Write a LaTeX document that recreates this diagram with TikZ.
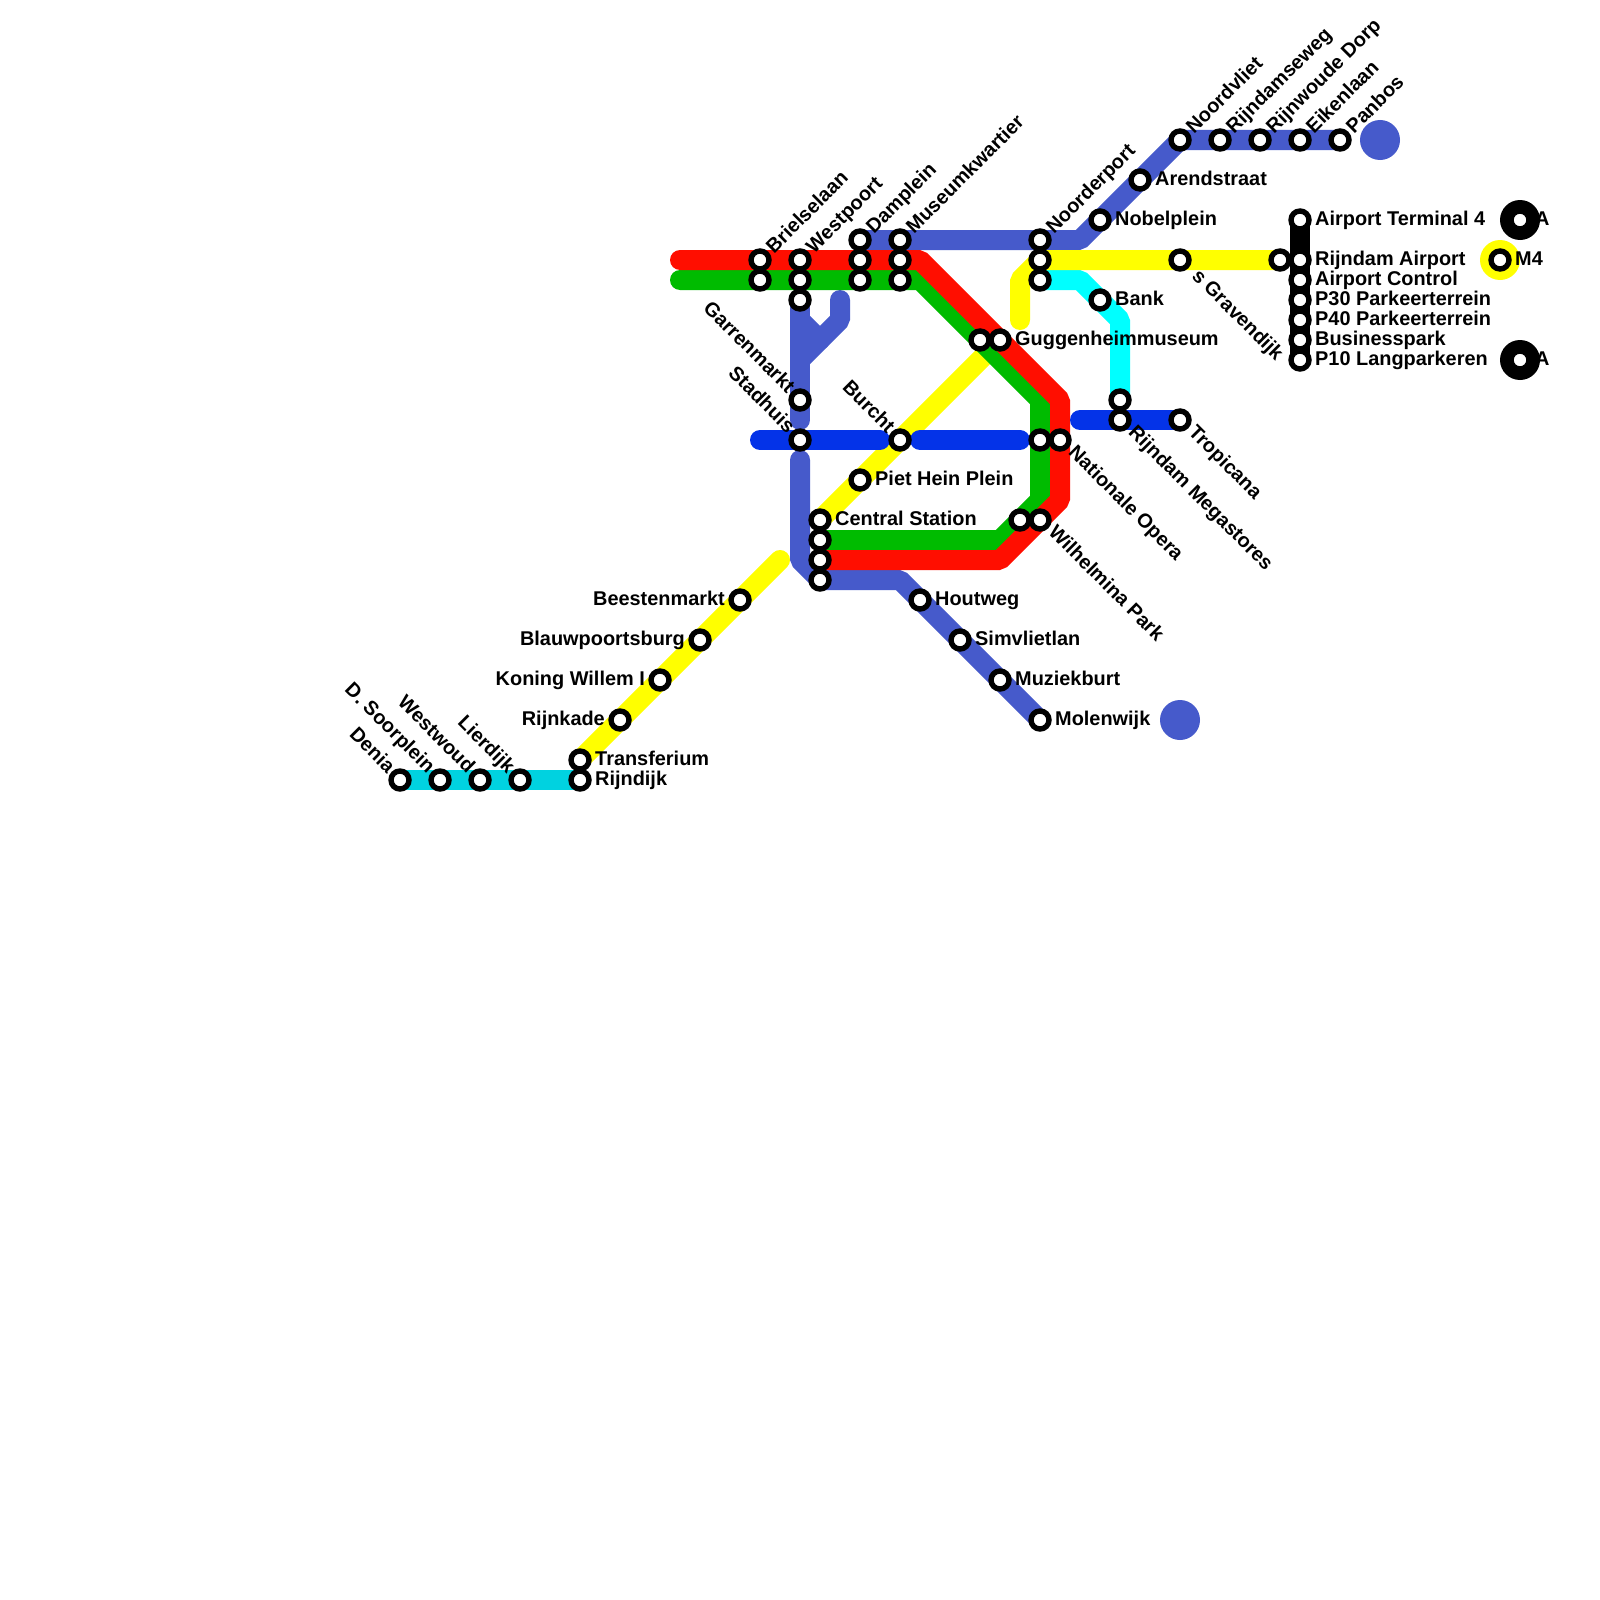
\documentclass[tikz,border=0pt]{standalone}
\usepackage{fontspec}
\setmainfont{Liberation Sans}
\definecolor{lblue}{HTML}{465ACB}
\definecolor{lroyal}{HTML}{0433E8}
\definecolor{lgreen}{HTML}{00BB00}
\definecolor{lred}{HTML}{FF0E00}
\definecolor{lyellow}{HTML}{FFFF00}
\definecolor{lcyan}{HTML}{00FFFF}
\definecolor{lteal}{HTML}{00D2E0}
\tikzset{
  metro/.style={line width=20pt,line join=bevel,line cap=round},
  stn/.style={circle,draw=black,fill=white,line width=5.4pt,minimum size=18pt,inner sep=0pt},
  blob/.style={circle,fill=#1,minimum size=40pt,inner sep=0pt},
  lab/.style={font=\bfseries\fontsize{19.9}{20}\selectfont,inner sep=0pt,text=black},
  lr/.style={lab,anchor=base west,xshift=15pt,yshift=-5pt},
  ll/.style={lab,anchor=base east,xshift=-15pt,yshift=-5pt},
  lur/.style={lab,anchor=base west,xshift=14pt,yshift=5.5pt,rotate=45},
  ldr/.style={lab,anchor=base west,xshift=7.5pt,yshift=-13.5pt,rotate=-45},
  lul/.style={lab,anchor=base east,xshift=-13pt,yshift=6pt,rotate=-45},
}
\begin{document}
\begin{tikzpicture}[x=1pt,y=-1pt]
\useasboundingbox (0,0) rectangle (1600,1600);
\fill[white] (0,0) rectangle (1600,1600);
% station positions
\foreach \n/\p in {
 bri1/{760,260},bri2/{760,280},wes1/{800,260},wes2/{800,280},wes3/{800,300},
 dam1/{860,240},dam2/{860,260},dam3/{860,280},mus1/{900,240},mus2/{900,260},mus3/{900,280},
 noo1/{1040,240},noo2/{1040,260},noo3/{1040,280},gug1/{980,340},gug2/{1000,340},
 gar/{800,400},sta/{800,440},bur/{900,440},nat1/{1040,440},nat2/{1060,440},
 pie/{860,480},cen1/{820,520},cen2/{820,540},cen3/{820,560},cen4/{820,580},
 wil1/{1020,520},wil2/{1040,520},hou/{920,600},sim/{960,640},muz/{1000,680},mol/{1040,720},
 bee/{740,600},bla/{700,640},kon/{660,680},rka/{620,720},tra/{580,760},rdk/{580,780},
 lie/{520,780},wwd/{480,780},soo/{440,780},den/{400,780},
 nob/{1100,220},are/{1140,180},nvl/{1180,140},rse/{1220,140},rwd/{1260,140},eik/{1300,140},pan/{1340,140},
 ban/{1100,300},meg1/{1120,400},meg2/{1120,420},tro/{1180,420},gra/{1180,260},gra2/{1280,260},
 air/{1300,260},ter/{1300,220},con/{1300,280},ptt/{1300,300},ptf/{1300,320},bus/{1300,340},pte/{1300,360},
 lega/{1520,220},legm/{1500,260},legb/{1520,360}%
}{\coordinate (c\n) at (\p);}
% bends and free ends
\coordinate (b1) at (1080,240);
\coordinate (b2) at (800,460);
\coordinate (b3) at (800,560);
\coordinate (b4) at (900,580);
\coordinate (b5) at (800,420);
\coordinate (b6) at (840,300);
\coordinate (b7) at (840,320);
\coordinate (b8) at (800,360);
\coordinate (b9) at (800,320);
\coordinate (b10) at (820,340);
\coordinate (r0) at (680,260);
\coordinate (r1) at (920,260);
\coordinate (r2) at (1060,400);
\coordinate (r3) at (1060,500);
\coordinate (r4) at (1000,560);
\coordinate (g0) at (680,280);
\coordinate (g1) at (920,280);
\coordinate (g2) at (1040,400);
\coordinate (g3) at (1040,500);
\coordinate (g4) at (1000,540);
\coordinate (y1) at (780,560);
\coordinate (y2) at (1020,320);
\coordinate (y3) at (1020,280);
\coordinate (k1) at (1080,280);
\coordinate (k2) at (1120,320);
\coordinate (t0) at (760,440);
\coordinate (t1) at (880,440);
\coordinate (t2) at (920,440);
\coordinate (t3) at (1020,440);
\coordinate (t4) at (1080,420);
% this label lies partly under the yellow line
\node[ldr] (t37a) at (cgra) {'s Gravendijk};
% lines
\draw[metro,lblue] (cdam1) -- (b1) -- (cnvl) -- (cpan);
\draw[metro,lblue] (cwes3) -- (b5);
\draw[metro,lblue] (b6) -- (b7) -- (b8);
\draw[metro,lblue] (b9) -- (b10);
\draw[metro,lblue] (b2) -- (b3) -- (ccen4) -- (b4) -- (cmol);
\draw[metro,lcyan] (cnoo3) -- (k1) -- (k2) -- (cmeg1);
\draw[metro,lyellow] (ctra) -- (y1);
\draw[metro,lyellow] (ccen1) -- (cgug2);
\draw[metro,lyellow] (y2) -- (y3) -- (cnoo2) -- (cgra2);
\draw[metro,lgreen] (g0) -- (g1) -- (g2) -- (g3) -- (g4) -- (ccen2);
\draw[metro,lred] (r0) -- (r1) -- (r2) -- (r3) -- (r4) -- (ccen3);
\draw[metro,lroyal] (t0) -- (t1);
\draw[metro,lroyal] (t2) -- (t3);
\draw[metro,lroyal] (t4) -- (ctro);
\draw[metro,lteal] (cden) -- (crdk);
\draw[metro,black] (cter) -- (cpte);
% terminal discs
\node[blob=lblue] (blobn) at (1380,140) {};
\node[blob=lblue] (blobs) at (1180,720) {};
\node[blob=black] (dla) at (clega) {};
\node[blob=lyellow] (dlm) at (clegm) {};
\node[blob=black] (dlb) at (clegb) {};
% stations
\foreach \n in {bri1,bri2,wes1,wes2,wes3,dam1,dam2,dam3,mus1,mus2,mus3,noo1,noo2,noo3,gug1,gug2,
 gar,sta,bur,nat1,nat2,pie,cen1,cen2,cen3,cen4,wil1,wil2,hou,sim,muz,mol,bee,bla,kon,rka,tra,rdk,
 lie,wwd,soo,den,nob,are,nvl,rse,rwd,eik,pan,ban,meg1,meg2,tro,gra,gra2,air,ter,con,ptt,ptf,bus,pte,lega,legm,legb}
 {\node[stn] (s\n) at (c\n) {};}
% labels
\node[lur] (t1a) at (cbri1) {Brielselaan};
\node[lur] (t2a) at (cwes1) {Westpoort};
\node[lur] (t3a) at (cdam1) {Damplein};
\node[lur] (t4a) at (cmus1) {Museumkwartier};
\node[lur] (t5a) at (cnoo1) {Noorderport};
\node[lur] (t6a) at (cnvl) {Noordvliet};
\node[lur] (t7a) at (crse) {Rijndamseweg};
\node[lur] (t8a) at (crwd) {Rijnwoude Dorp};
\node[lur] (t9a) at (ceik) {Eikenlaan};
\node[lur] (t10a) at (cpan) {Panbos};
\node[lr] (t11a) at (cgug2) {Guggenheimmuseum};
\node[lr] (t12a) at (cnob) {Nobelplein};
\node[lr] (t13a) at (care) {Arendstraat};
\node[lr] (t14a) at (cban) {Bank};
\node[lr] (t15a) at (cter) {Airport Terminal 4};
\node[lr] (t16a) at (cair) {Rijndam Airport};
\node[lr] (t17a) at (ccon) {Airport Control};
\node[lr] (t18a) at (cptt) {P30 Parkeerterrein};
\node[lr] (t19a) at (cptf) {P40 Parkeerterrein};
\node[lr] (t20a) at (cbus) {Businesspark};
\node[lr] (t21a) at (cpte) {P10 Langparkeren};
\node[lr] (t22a) at (clega) {A};
\node[lr] (t23a) at (clegm) {M4};
\node[lr] (t24a) at (clegb) {A};
\node[lr] (t25a) at (cpie) {Piet Hein Plein};
\node[lr] (t26a) at (ccen1) {Central Station};
\node[lr] (t27a) at (chou) {Houtweg};
\node[lr] (t28a) at (csim) {Simvlietlan};
\node[lr] (t29a) at (cmuz) {Muziekburt};
\node[lr] (t30a) at (cmol) {Molenwijk};
\node[lr] (t31a) at (ctra) {Transferium};
\node[lr] (t32a) at (crdk) {Rijndijk};
\node[ll] (t33a) at (cbee) {Beestenmarkt};
\node[ll] (t34a) at (cbla) {Blauwpoortsburg};
\node[ll] (t35a) at (ckon) {Koning Willem I};
\node[ll] (t36a) at (crka) {Rijnkade};
\node[ldr] (t38a) at (cnat2) {Nationale Opera};
\node[ldr] (t39a) at (cwil2) {Wilhelmina Park};
\node[ldr] (t40a) at (cmeg2) {Rijndam Megastores};
\node[ldr] (t41a) at (ctro) {Tropicana};
\node[lul] (t42a) at (cgar) {Garrenmarkt};
\node[lul] (t43a) at (csta) {Stadhuis};
\node[lul] (t44a) at (cbur) {Burcht};
\node[lul] (t45a) at (clie) {Lierdijk};
\node[lul] (t46a) at (cwwd) {Westwoud};
\node[lul] (t47a) at (csoo) {D. Soorplein};
\node[lul] (t48a) at (cden) {Denia};
\end{tikzpicture}
\end{document}
